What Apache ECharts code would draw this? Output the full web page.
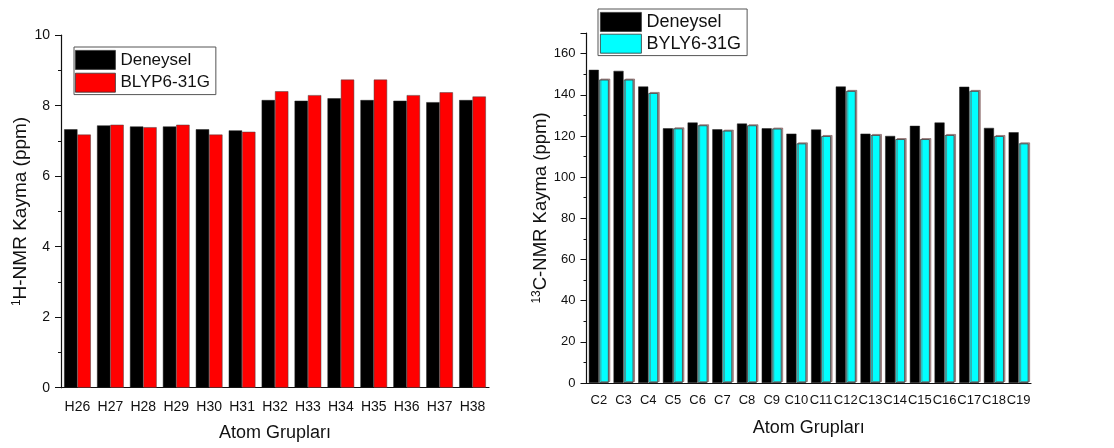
<!DOCTYPE html>
<html>
<head>
<meta charset="utf-8">
<script src="https://cdn.jsdelivr.net/npm/echarts@6/dist/echarts.min.js"></script>
<style>html,body{margin:0;padding:0;background:#fff;}#c{width:1114px;height:448px;}</style>
</head>
<body>
<div id="c"></div>
<script>
// Left chart: 1H-NMR
const hCategories = ['H26','H27','H28','H29','H30','H31','H32','H33','H34','H35','H36','H37','H38'];
const hExp = [7.33, 7.44, 7.41, 7.41, 7.33, 7.30, 8.16, 8.14, 8.21, 8.16, 8.14, 8.10, 8.16];
const hCalc = [7.18, 7.46, 7.39, 7.46, 7.18, 7.26, 8.41, 8.30, 8.74, 8.74, 8.30, 8.38, 8.26];
// Right chart: 13C-NMR
const cCategories = ['C2','C3','C4','C5','C6','C7','C8','C9','C10','C11','C12','C13','C14','C15','C16','C17','C18','C19'];
const cExp = [152.1, 151.6, 144.0, 123.7, 126.5, 123.2, 126.0, 123.7, 121.1, 123.1, 144.0, 121.1, 120.0, 124.9, 126.5, 143.9, 123.9, 121.8];
const cCalc = [147.4, 147.4, 140.9, 123.7, 125.2, 122.6, 125.2, 123.6, 116.4, 120.0, 141.9, 120.5, 118.5, 118.5, 120.5, 141.9, 120.0, 116.4];
const leftTicks = [0, 2, 4, 6, 8, 10];
const rightTicks = [0, 20, 40, 60, 80, 100, 120, 140, 160];

const FONT = '"Liberation Sans", Arial, sans-serif';
const AX = '#111';

function catAxes(grid, data, fontSize, margin) {
  return [
    {
      type: 'category', gridIndex: grid, data: data,
      axisLine: {lineStyle: {color: AX, width: 1.2}},
      axisTick: {alignWithLabel: true, length: 5, lineStyle: {color: AX}},
      axisLabel: {interval: 0, fontFamily: FONT, fontSize: fontSize, color: '#111', margin: margin},
      name: 'Atom Grupları', nameLocation: 'middle', nameGap: 36,
      nameTextStyle: {fontFamily: FONT, fontSize: 18, color: '#111'}
    },
    {
      type: 'category', gridIndex: grid, data: data, position: 'bottom',
      axisLine: {show: false},
      axisTick: {length: 5, lineStyle: {color: AX}},
      axisLabel: {show: false}
    }
  ];
}

const chart = echarts.init(document.getElementById('c'), null, {renderer: 'canvas'});
chart.setOption({
  animation: false,
  backgroundColor: '#fff',
  grid: [
    {left: 61, right: 625, top: 35.2, bottom: 60.3},
    {left: 586.5, right: 83, top: 33, bottom: 65}
  ],
  legend: [
    {
      data: ['Deneysel', 'BLYP6-31G'], orient: 'vertical', left: 74, top: 47, icon: 'rect',
      itemWidth: 40, itemHeight: 19, itemGap: 3, itemStyle: {borderColor: '#333', borderWidth: 0.8},
      padding: [3, 6, 2, 1], borderColor: '#555', borderWidth: 1,
      textStyle: {fontFamily: FONT, fontSize: 17, color: '#111'}
    },
    {
      data: ['Deneysel', 'BYLY6-31G'], orient: 'vertical', left: 598, top: 9, icon: 'rect',
      itemWidth: 41, itemHeight: 19, itemGap: 2, itemStyle: {borderColor: '#333', borderWidth: 0.8},
      padding: [3, 6, 2, 2], borderColor: '#555', borderWidth: 1,
      textStyle: {fontFamily: FONT, fontSize: 18, color: '#111'}
    }
  ],
  xAxis: [].concat(catAxes(0, hCategories, 14, 12), catAxes(1, cCategories, 13, 11)),
  yAxis: [
    {
      type: 'value', gridIndex: 0, min: leftTicks[0], max: leftTicks[leftTicks.length - 1], interval: 2,
      splitLine: {show: false},
      axisLine: {show: true, lineStyle: {color: AX, width: 1.2}},
      axisTick: {show: true, length: 6, lineStyle: {color: AX}},
      minorTick: {show: true, splitNumber: 2, length: 3, lineStyle: {color: AX}},
      axisLabel: {fontFamily: FONT, fontSize: 14, color: '#111', margin: 11},
      name: '{sup|1}H-NMR Kayma (ppm)', nameLocation: 'middle', nameGap: 31,
      nameTextStyle: {fontFamily: FONT, fontSize: 19, color: '#111',
        rich: {sup: {fontFamily: FONT, fontSize: 12, color: '#111', verticalAlign: 'top', padding: [0, 0, 7, 0]}}}
    },
    {
      type: 'value', gridIndex: 1, min: rightTicks[0], max: 170, interval: 20,
      splitLine: {show: false},
      axisLine: {show: true, lineStyle: {color: AX, width: 1.2}},
      axisTick: {show: true, length: 6, lineStyle: {color: AX}},
      minorTick: {show: true, splitNumber: 2, length: 3, lineStyle: {color: AX}},
      axisLabel: {fontFamily: FONT, fontSize: 13, color: '#111', margin: 11, showMaxLabel: false},
      name: '{sup|13}C-NMR Kayma (ppm)', nameLocation: 'middle', nameGap: 36,
      nameTextStyle: {fontFamily: FONT, fontSize: 18.5, color: '#111',
        rich: {sup: {fontFamily: FONT, fontSize: 12, color: '#111', verticalAlign: 'top', padding: [0, 0, 7, 0]}}}
    }
  ],
  series: [
    {name: 'Deneysel', type: 'bar', xAxisIndex: 0, yAxisIndex: 0, data: hExp,
      barGap: '0%', barCategoryGap: '19%', itemStyle: {color: '#000', borderColor: '#222', borderWidth: 0.5}},
    {name: 'BLYP6-31G', type: 'bar', xAxisIndex: 0, yAxisIndex: 0, data: hCalc,
      barGap: '0%', barCategoryGap: '19%', itemStyle: {color: '#ff0000', borderColor: '#444', borderWidth: 0.5}},
    {name: 'Deneysel', type: 'bar', xAxisIndex: 2, yAxisIndex: 1, data: cExp,
      barGap: '0%', barCategoryGap: '19%', itemStyle: {color: '#000', borderColor: '#222', borderWidth: 0.5}},
    {name: 'BYLY6-31G', type: 'bar', xAxisIndex: 2, yAxisIndex: 1, data: cCalc,
      barGap: '0%', barCategoryGap: '19%', itemStyle: {color: '#00ffff', borderColor: '#555', borderWidth: 1,
        shadowColor: 'rgba(120,80,80,0.6)', shadowOffsetX: 1.5, shadowOffsetY: -1, shadowBlur: 0}}
  ]
});
</script>
</body>
</html>
